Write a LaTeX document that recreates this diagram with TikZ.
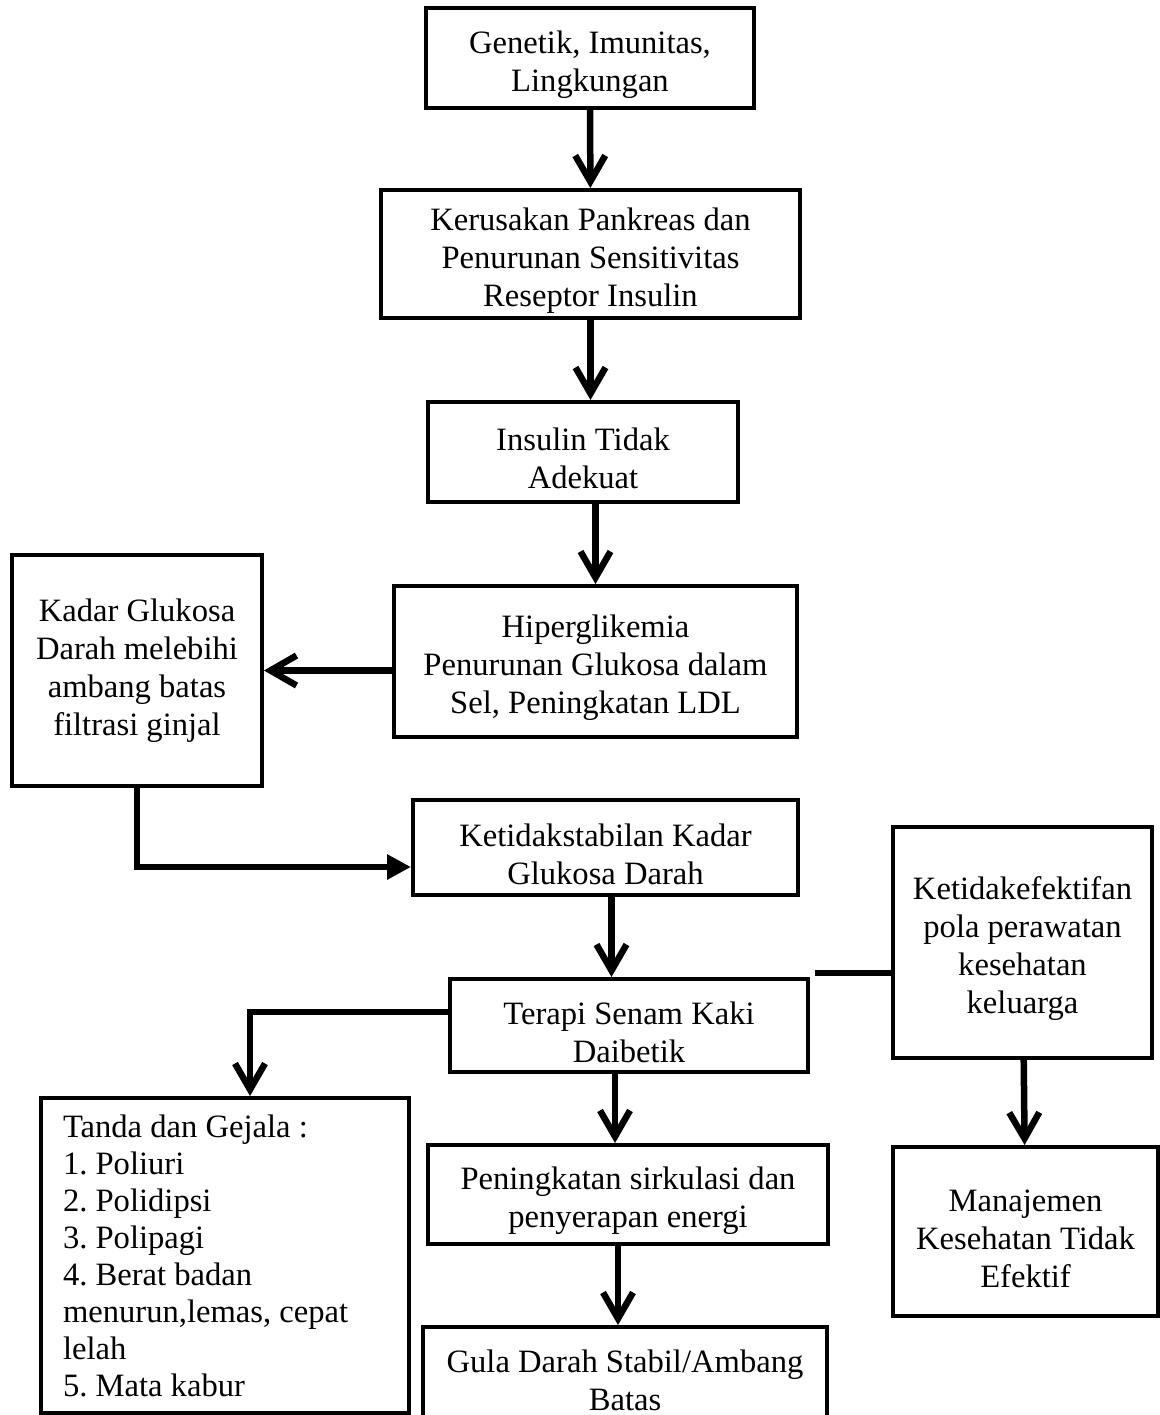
\documentclass[tikz,border=0pt]{standalone}
\usepackage{fontspec}
\setmainfont{Liberation Serif}
\usetikzlibrary{arrows.meta,positioning}
\def\Atas{\rule{0pt}{18pt}}% pushes the text a bit lower in the box

\begin{document}
\begin{tikzpicture}[% styles for all boxes and arrows, 1 unit = 1 pixel of the page
      x=0.5pt, y=-0.5pt,
      every node/.style={
        align=flush center,   % so that "\\" breaks lines
        inner sep=0pt,
        font=\fontsize{16.3}{19}\selectfont\frenchspacing
      },
      kotak/.style={rectangle,draw=black,line width=2pt},
      panah/.style={draw,line width=3.25pt,-{Straight Barb[length=13pt,width=15pt]}},
      segitiga/.style={draw,line width=3.25pt,-{Triangle[length=12pt,width=12pt]}},
      garis/.style={draw,line width=3.25pt},
      every edge/.style={panah}
    ]
    \clip (0,0) rectangle (1160,1415);
    \node[kotak,minimum width=164pt,minimum height=50pt](R1) at (590,58) {\Atas Genetik, Imunitas,\\ Lingkungan};
    \node[kotak,minimum width=209.5pt,minimum height=64pt](R2) at (590.5,254) {\Atas Kerusakan Pankreas dan\\ Penurunan Sensitivitas\\ Reseptor Insulin};
    \node[kotak,minimum width=155pt,minimum height=50pt](R3) at (583,452) {\Atas Insulin Tidak\\ Adekuat};
    \node[kotak,minimum width=201.5pt,minimum height=75.5pt](R4) at (595.5,661.5) {\Atas Hiperglikemia\\ Penurunan Glukosa dalam\\ Sel, Peningkatan LDL};
    \node[kotak,minimum width=125pt,minimum height=115.5pt](R5) at (137,670.5) {Kadar Glukosa\\ Darah melebihi\\ ambang batas\\ filtrasi ginjal};
    \node[kotak,minimum width=192.5pt,minimum height=47.5pt](R6) at (605.5,847.5) {\Atas Ketidakstabilan Kadar\\ Glukosa Darah};
    \node[kotak,minimum width=179pt,minimum height=46.5pt](R7) at (629,1025.5) {\Atas Terapi Senam Kaki\\ Daibetik};
    \node[kotak,minimum width=129.5pt,minimum height=115.5pt](R8) at (1022.5,942.5) {\Atas Ketidakefektifan\\ pola perawatan\\ kesehatan\\ keluarga};
    \node[kotak,minimum width=132.5pt,minimum height=84.5pt](R9) at (1025.5,1231.5) {\Atas Manajemen\\ Kesehatan Tidak\\ Efektif};
    \node[kotak,align=flush left,font=\fontsize{16.3}{18.5}\selectfont\frenchspacing,text width=162pt,minimum width=184pt,minimum height=157.5pt](R10) at (225,1255.5) {Tanda dan Gejala :\\ 1. Poliuri\\ 2. Polidipsi\\ 3. Polipagi\\ 4. Berat badan\\ menurun,lemas, cepat\\ lelah\\ 5. Mata kabur};
    \node[kotak,minimum width=200pt,minimum height=49.5pt](R11) at (628,1194.5) {\Atas Peningkatan sirkulasi dan\\ penyerapan energi};
    \node[kotak,minimum width=202pt,minimum height=53pt](R12) at (625,1380) {Gula Darah Stabil/Ambang\\ Batas};
    \path
    (R1)edge (R2)
    (R2.south)edge (R2.south |- R3.north)
    (R3.south -| R4.north)edge (R4.north)
    (R4.west |- R5.east)edge (R5.east)
    ([xshift=3pt]R6.south)edge ([xshift=3pt]R6.south |- R7.north)
    ([xshift=-7pt]R7.south)edge ([xshift=-7pt]R7.south |- R11.north)
    ([xshift=-5pt]R11.south)edge ([xshift=-5pt]R11.south |- R12.north)
    (R8)edge (R9)
    ;
    \draw[segitiga] (R5.south) |- ([yshift=-9.75pt]R6.west);
    \draw[panah] ([yshift=6.75pt]R7.west) -| ([xshift=12.5pt]R10.north);
    \draw[garis] ([yshift=-15.25pt]R8.west) -- ++(-76,0);
  \end{tikzpicture}
\end{document}
